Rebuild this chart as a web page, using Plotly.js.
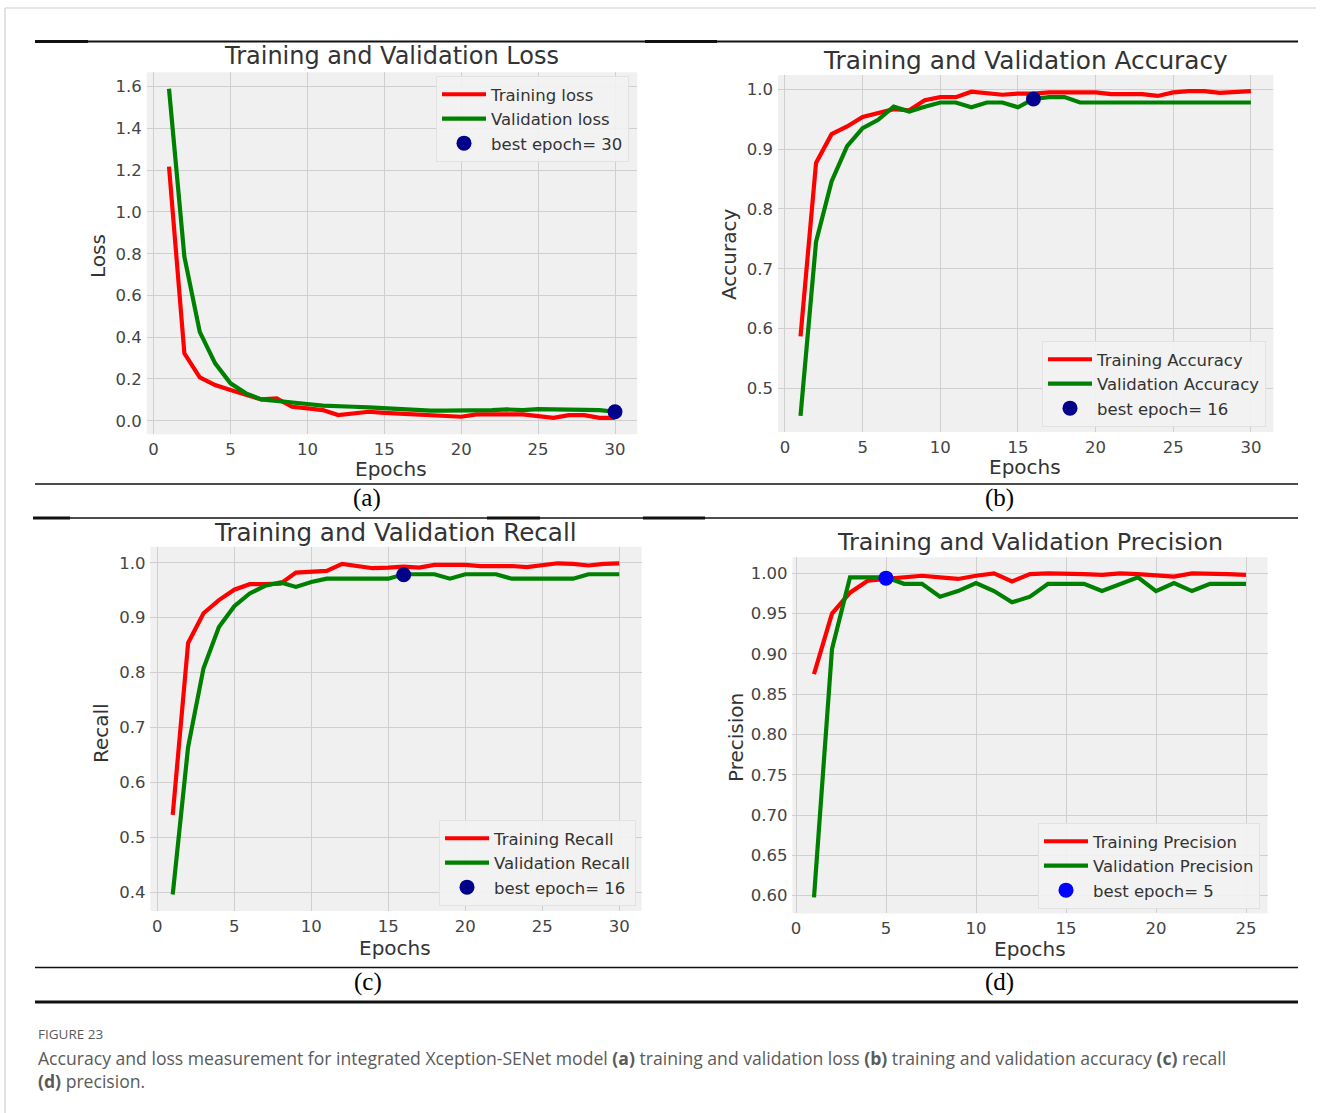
<!DOCTYPE html>
<html>
<head>
<meta charset="utf-8">
<script src="https://cdn.plot.ly/plotly-3.0.1.min.js"></script>
<style>html,body{margin:0;padding:0;background:#fff;}#chart{width:1326px;height:1113px;}</style>
</head>
<body>
<div id="chart"></div>
<script>
// ---------- data ----------
const epochs30 = [1,2,3,4,5,6,7,8,9,10,11,12,13,14,15,16,17,18,19,20,21,22,23,24,25,26,27,28,29,30];
const epochs25 = [1,2,3,4,5,6,7,8,9,10,11,12,13,14,15,16,17,18,19,20,21,22,23,24,25];

const lossTrain = [1.217,0.323,0.208,0.171,0.147,0.123,0.102,0.107,0.067,0.059,0.051,0.027,0.035,0.043,0.038,0.035,0.030,0.030,0.027,0.019,0.030,0.030,0.030,0.030,0.022,0.014,0.027,0.027,0.014,0.014];
const lossVal   = [1.590,0.786,0.426,0.275,0.179,0.131,0.102,0.096,0.088,0.080,0.072,0.067,0.067,0.064,0.059,0.056,0.054,0.048,0.048,0.048,0.051,0.051,0.054,0.051,0.056,0.056,0.054,0.054,0.051,0.043];
const lossBestEpoch = [30];
const lossBestValue = [0.043];

const accTrain = [0.587,0.877,0.925,0.938,0.954,0.960,0.967,0.965,0.982,0.987,0.987,0.996,0.993,0.991,0.993,0.993,0.995,0.995,0.995,0.995,0.992,0.992,0.992,0.989,0.995,0.997,0.997,0.994,0.996,0.997];
const accVal   = [0.454,0.745,0.846,0.905,0.935,0.949,0.971,0.963,0.971,0.978,0.978,0.970,0.978,0.978,0.970,0.984,0.987,0.987,0.978,0.978,0.978,0.978,0.978,0.978,0.978,0.978,0.978,0.978,0.978,0.978];
const accBestEpoch = [16];
const accBestValue = [0.984];

const recTrain = [0.541,0.854,0.908,0.932,0.951,0.961,0.961,0.962,0.982,0.984,0.985,0.998,0.994,0.990,0.991,0.993,0.991,0.996,0.996,0.996,0.994,0.994,0.994,0.992,0.996,0.999,0.998,0.995,0.998,0.999];
const recVal   = [0.396,0.665,0.808,0.883,0.921,0.944,0.958,0.964,0.956,0.965,0.971,0.971,0.971,0.971,0.971,0.979,0.979,0.979,0.971,0.979,0.979,0.979,0.971,0.971,0.971,0.971,0.971,0.979,0.979,0.979];
const recBestEpoch = [16];
const recBestValue = [0.978];

const precTrain = [0.875,0.950,0.976,0.991,0.993,0.995,0.997,0.995,0.993,0.997,1.000,0.990,0.999,1.000,1.000,0.999,0.998,1.000,0.999,0.998,0.996,1.000,1.000,0.999,0.998];
const precVal   = [0.598,0.906,0.995,0.995,0.995,0.987,0.987,0.971,0.978,0.988,0.978,0.964,0.971,0.987,0.987,0.987,0.978,0.987,0.995,0.978,0.988,0.978,0.987,0.987,0.987];
const precBestEpoch = [5];
const precBestValue = [0.994];

const panelTitles = ["Training and Validation Loss","Training and Validation Accuracy","Training and Validation Recall","Training and Validation Precision"];
const yTitles = ["Loss","Accuracy","Recall","Precision"];
const panelLabels = ["(a)","(b)","(c)","(d)"];
const legendNames = [
  ["Training loss","Validation loss","best epoch= 30"],
  ["Training Accuracy","Validation Accuracy","best epoch= 16"],
  ["Training Recall","Validation Recall","best epoch= 16"],
  ["Training Precision","Validation Precision","best epoch= 5"]
];
const captionHead = "FIGURE 23";
const captionLine1 = "Accuracy and loss measurement for integrated Xception-SENet model <b>(a)</b> training and validation loss <b>(b)</b> training and validation accuracy <b>(c)</b> recall";
const captionLine2 = "<b>(d)</b> precision.";

// ---------- layout helpers ----------
const W = 1326, H = 1113;
const X = p => p / W;
const Y = p => 1 - p / H;

const RED = "#ff0000", GREEN = "#008000", NAVY = "#00008b", BLUE = "#0000ff";
const FONT = "DejaVu Sans, sans-serif";
const TXT = "#333333";

const series = [
  {x: epochs30, tr: lossTrain, va: lossVal, bx: lossBestEpoch, by: lossBestValue, mc: NAVY},
  {x: epochs30, tr: accTrain,  va: accVal,  bx: accBestEpoch,  by: accBestValue,  mc: NAVY},
  {x: epochs30, tr: recTrain,  va: recVal,  bx: recBestEpoch,  by: recBestValue,  mc: NAVY},
  {x: epochs25, tr: precTrain, va: precVal, bx: precBestEpoch, by: precBestValue, mc: BLUE}
];

const traces = [];
series.forEach((s, i) => {
  const ax = i === 0 ? "" : String(i + 1);
  const lg = i === 0 ? "legend" : "legend" + (i + 1);
  traces.push({x: s.x, y: s.tr, type: "scatter", mode: "lines", name: legendNames[i][0],
    line: {color: RED, width: 4.2}, xaxis: "x" + ax, yaxis: "y" + ax, legend: lg});
  traces.push({x: s.x, y: s.va, type: "scatter", mode: "lines", name: legendNames[i][1],
    line: {color: GREEN, width: 4.2}, xaxis: "x" + ax, yaxis: "y" + ax, legend: lg});
  traces.push({x: s.bx, y: s.by, type: "scatter", mode: "markers", name: legendNames[i][2],
    marker: {color: s.mc, size: 15}, xaxis: "x" + ax, yaxis: "y" + ax, legend: lg});
});

// panel geometry (pixels)
const panels = [
  {x0: 146.7, x1: 637.3, y0: 72.3, y1: 434.3, xr: [-0.45, 31.45], yr: [-0.065, 1.669], dt: 0.2, t0: 0, fmt: ".1f"},
  {x0: 778.0, x1: 1273.4, y0: 75.0, y1: 432.0, xr: [-0.45, 31.45], yr: [0.427, 1.024], dt: 0.1, t0: 0.5, fmt: ".1f"},
  {x0: 150.4, x1: 641.6, y0: 546.8, y1: 911.0, xr: [-0.45, 31.45], yr: [0.366, 1.029], dt: 0.1, t0: 0.4, fmt: ".1f"},
  {x0: 792.4, x1: 1267.6, y0: 557.2, y1: 913.4, xr: [-0.2, 26.2], yr: [0.578, 1.020], dt: 0.05, t0: 0.6, fmt: ".2f"}
];

const layout = {
  width: W, height: H,
  margin: {l: 0, r: 0, t: 0, b: 0},
  paper_bgcolor: "#ffffff",
  plot_bgcolor: "#f0f0f0",
  showlegend: true,
  annotations: [],
  shapes: []
};

const axCommon = {
  showline: false, zeroline: false, ticks: "", showgrid: true,
  gridcolor: "#cfcfcf", gridwidth: 1,
  tickfont: {family: FONT, size: 16.5, color: "#444444"},
  fixedrange: true
};

panels.forEach((p, i) => {
  const k = i === 0 ? "" : String(i + 1);
  layout["xaxis" + k] = Object.assign({}, axCommon, {
    domain: [X(p.x0), X(p.x1)], range: p.xr, anchor: "y" + k,
    tickmode: "linear", tick0: 0, dtick: 5, ticklabelstandoff: 3
  });
  layout["yaxis" + k] = Object.assign({}, axCommon, {
    domain: [Y(p.y1), Y(p.y0)], range: p.yr, anchor: "x" + k,
    tickmode: "linear", tick0: p.t0, dtick: p.dt, tickformat: p.fmt, ticklabelstandoff: 4
  });
});

// legends
const legBase = {bgcolor: "rgba(242,242,242,0.9)", bordercolor: "#e2e2e2", borderwidth: 1,
  font: {family: FONT, size: 16.5, color: TXT}, tracegroupgap: 0, itemwidth: 44};
layout.legend  = Object.assign({}, legBase, {x: X(629), xanchor: "right", y: Y(76), yanchor: "top"});
layout.legend2 = Object.assign({}, legBase, {x: X(1266), xanchor: "right", y: Y(427), yanchor: "bottom"});
layout.legend3 = Object.assign({}, legBase, {x: X(636), xanchor: "right", y: Y(906), yanchor: "bottom"});
layout.legend4 = Object.assign({}, legBase, {x: X(1260), xanchor: "right", y: Y(909), yanchor: "bottom"});

// titles, axis titles
const titlePos = [[391, 56, 24], [1025, 60, 24.8], [395, 532, 24.6], [1030, 542, 23.8]];
const yTitlePos = [[98, 256], [729, 255], [101, 733], [736, 738]];
const xTitlePos = [[391, 469], [1025, 467], [395, 948], [1030, 949]];
const labelPos = [[367, 498], [999, 498], [368, 982], [999, 982]];

for (let i = 0; i < 4; i++) {
  layout.annotations.push({text: panelTitles[i], xref: "paper", yref: "paper",
    x: X(titlePos[i][0]), y: Y(titlePos[i][1]), xanchor: "center", yanchor: "middle", showarrow: false,
    font: {family: FONT, size: titlePos[i][2], color: TXT}});
  layout.annotations.push({text: yTitles[i], xref: "paper", yref: "paper", textangle: -90,
    x: X(yTitlePos[i][0]), y: Y(yTitlePos[i][1]), xanchor: "center", yanchor: "middle", showarrow: false,
    font: {family: FONT, size: 20, color: TXT}});
  layout.annotations.push({text: "Epochs", xref: "paper", yref: "paper",
    x: X(xTitlePos[i][0]), y: Y(xTitlePos[i][1]), xanchor: "center", yanchor: "middle", showarrow: false,
    font: {family: FONT, size: 20, color: TXT}});
  layout.annotations.push({text: panelLabels[i], xref: "paper", yref: "paper",
    x: X(labelPos[i][0]), y: Y(labelPos[i][1]), xanchor: "center", yanchor: "middle", showarrow: false,
    font: {family: "Liberation Serif, Times New Roman, serif", size: 25, color: "#000"}});
}

// caption
layout.annotations.push({text: captionHead, xref: "paper", yref: "paper", x: X(36), y: Y(1034),
  xanchor: "left", yanchor: "middle", showarrow: false,
  font: {family: "Open Sans, sans-serif", size: 13.5, color: "#5a5a5a"}});
layout.annotations.push({text: captionLine1, xref: "paper", yref: "paper", x: X(36), y: Y(1057.5),
  xanchor: "left", yanchor: "middle", showarrow: false,
  font: {family: "Open Sans, sans-serif", size: 17.6, color: "#5a5a5a"}});
layout.annotations.push({text: captionLine2, xref: "paper", yref: "paper", x: X(36), y: Y(1081),
  xanchor: "left", yanchor: "middle", showarrow: false,
  font: {family: "Open Sans, sans-serif", size: 17.6, color: "#5a5a5a"}});

// rule lines and page border
const hline = (x0, x1, y, w, c) => ({type: "line", xref: "paper", yref: "paper",
  x0: X(x0), x1: X(x1), y0: Y(y), y1: Y(y), line: {color: c || "#111", width: w}});
layout.shapes.push(hline(5, 1316, 8, 1.2, "#cfcfcf"));
layout.shapes.push({type: "line", xref: "paper", yref: "paper", x0: X(5), x1: X(5), y0: Y(8), y1: Y(1113),
  line: {color: "#cfcfcf", width: 1.2}});
layout.shapes.push(hline(35, 1298, 41.5, 1.8));
layout.shapes.push(hline(35, 88, 41.5, 3));
layout.shapes.push(hline(645, 717, 41.5, 3));
layout.shapes.push(hline(35, 1298, 484, 1.6));
layout.shapes.push(hline(35, 1298, 518, 1.6));
layout.shapes.push(hline(33, 70, 518, 3));
layout.shapes.push(hline(487, 540, 518, 3));
layout.shapes.push(hline(643, 705, 518, 3));
layout.shapes.push(hline(35, 1298, 967.5, 1.6));
layout.shapes.push(hline(35, 1298, 1002, 3));

Plotly.newPlot("chart", traces, layout, {staticPlot: true, displayModeBar: false});
</script>
</body>
</html>
